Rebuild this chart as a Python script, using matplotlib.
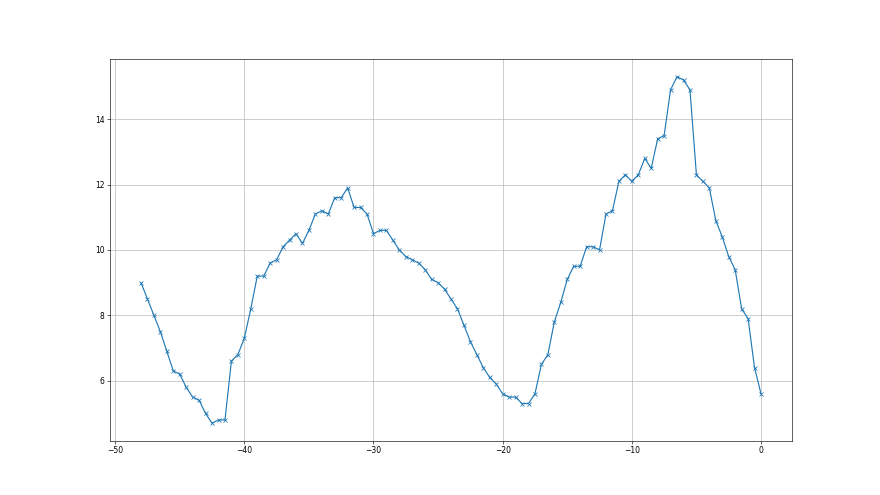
import matplotlib
matplotlib.use('Agg')
import matplotlib.pyplot as plt
import numpy as np

# x positions: -48 to 0 every half step
x = np.arange(-48, 0.25, 0.5)

# values
y = [9.0, 8.5, 8.0, 7.5, 6.9, 6.3, 6.2, 5.8, 5.5, 5.4,
     5.0, 4.7, 4.8, 4.8, 6.6, 6.8, 7.3, 8.2, 9.2,
     9.2, 9.6, 9.7, 10.1, 10.3, 10.5, 10.2, 10.6, 11.1, 11.2,
     11.1, 11.6, 11.6, 11.9, 11.3, 11.3, 11.1, 10.5, 10.6,
     10.6, 10.3, 10.0, 9.8, 9.7, 9.6, 9.4, 9.1, 9.0, 8.8,
     8.5, 8.2, 7.7, 7.2, 6.8, 6.4, 6.1, 5.9,
     5.6, 5.5, 5.5, 5.3, 5.3, 5.6, 6.5, 6.8, 7.8, 8.4,
     9.1, 9.5, 9.5, 10.1, 10.1, 10.0,
     11.1, 11.2, 12.1, 12.3, 12.1, 12.3, 12.8, 12.5, 13.4, 13.5,
     14.9, 15.3, 15.2, 14.9, 12.3, 12.1, 11.9, 10.9, 10.4, 9.8,
     9.4, 8.2, 7.9, 6.4, 5.6]

fig, ax = plt.subplots(figsize=(16, 9), dpi=55)
ax.plot(x, y, marker='x', color='#1f77b4')
ax.set_xticks([-50, -40, -30, -20, -10, 0])
ax.set_yticks([6, 8, 10, 12, 14])
ax.grid(True)
fig.savefig("out.png")
